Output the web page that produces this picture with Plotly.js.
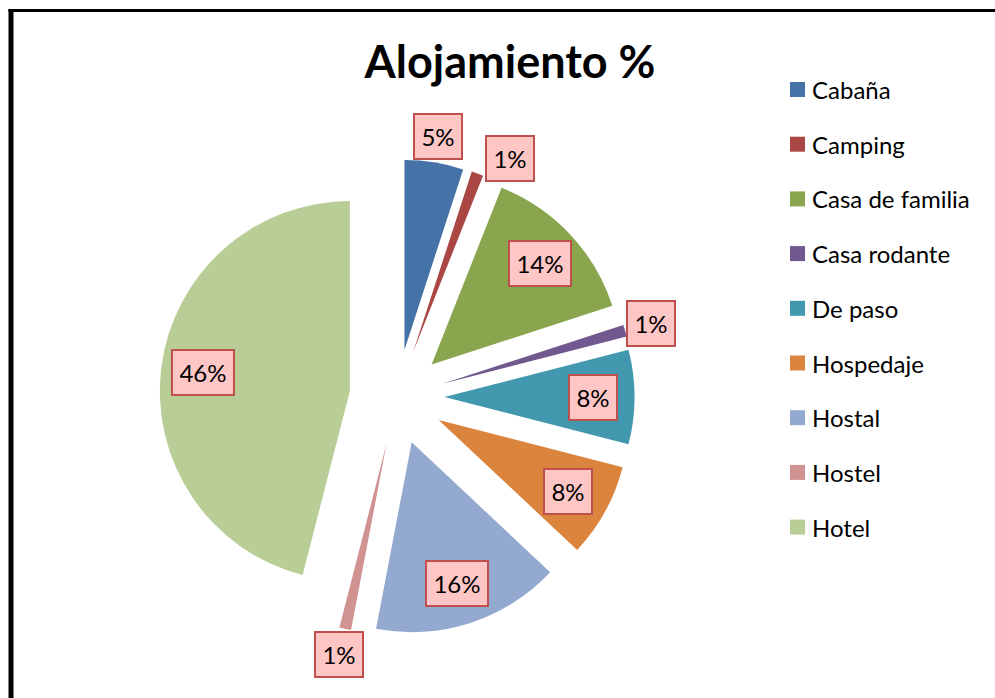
<!DOCTYPE html>
<html><head><meta charset="utf-8">
<script src="https://cdn.plot.ly/plotly-3.0.1.min.js"></script>
<style>html,body{margin:0;padding:0;background:#fff}#chart{width:995px;height:698px}</style>
</head><body><div id="chart"></div>
<script>
const categories = ['Cabaña','Camping','Casa de familia','Casa rodante','De paso','Hospedaje','Hostal','Hostel','Hotel'];
const percentValues = [5, 1, 14, 1, 8, 8, 16, 1, 46];
const percentLabels = ['5%','1%','14%','1%','8%','8%','16%','1%','46%'];
const sliceColors = ['#4572A7','#AA4643','#89A54E','#71588F','#4198AF','#DB843D','#93A9CF','#D19392','#B9CD96'];
const chartTitle = 'Alojamiento %';

const W = 995, H = 698;
const FONT = 'Lato, "Open Sans", sans-serif';
const PULL = 0.25;
const dom = {x: [159.5 / W, 634.5 / W], y: [1 - 634.5 / H, 1 - 159.5 / H]};
const R = Math.min((dom.x[1] - dom.x[0]) * W, (dom.y[1] - dom.y[0]) * H) / (2 + 2 * PULL);
const CX = (dom.x[0] + dom.x[1]) / 2 * W;
const CY = (1 - (dom.y[0] + dom.y[1]) / 2) * H;

const total = percentValues.reduce((a, b) => a + b, 0);
const annotations = [];
const shapes = [];

// data labels (boxed), positioned from each slice's mid angle
let cum = 0;
const placedOutside = [];
percentValues.forEach((v, i) => {
  let mid = (cum + v / 2) / total * 360;
  cum += v;
  const outside = v <= 5;
  const dist = outside ? (PULL + 1.14) * R : (PULL + 0.78) * R;
  const pos = a => [CX + dist * Math.sin(a * Math.PI / 180), CY - dist * Math.cos(a * Math.PI / 180)];
  let p = pos(mid);
  if (outside) {
    let guard = 0;
    while (placedOutside.some(q => Math.hypot(q[0] - p[0], q[1] - p[1]) < 74) && guard < 100) {
      mid += 0.5; p = pos(mid); guard++;
    }
    placedOutside.push(p);
  }
  annotations.push({
    x: p[0] / W, y: 1 - p[1] / H, xref: 'paper', yref: 'paper',
    text: percentLabels[i], showarrow: false, xanchor: 'center', yanchor: 'middle',
    font: {family: FONT, size: 24, color: '#000'},
    bgcolor: '#FFC6C6', bordercolor: '#C0504D', borderwidth: 2, borderpad: 7,
    width: 14 * percentLabels[i].length + 4
  });
});

// legend
categories.forEach((c, i) => {
  const yc = 89.5 + i * 54.7;
  shapes.push({type: 'rect', xref: 'paper', yref: 'paper',
    x0: 790 / W, x1: 805 / W, y0: 1 - (yc + 7.5) / H, y1: 1 - (yc - 7.5) / H,
    fillcolor: sliceColors[i], line: {width: 0}});
  annotations.push({x: 810 / W, y: 1 - yc / H, xref: 'paper', yref: 'paper',
    text: c, showarrow: false, xanchor: 'left', yanchor: 'middle',
    font: {family: FONT, size: 24, color: '#000'}});
});

// chart frame
shapes.push({type: 'line', xref: 'paper', yref: 'paper', x0: 11 / W, x1: 11 / W, y0: -0.05, y1: 1 - 9 / H, line: {color: '#000', width: 5}});
shapes.push({type: 'line', xref: 'paper', yref: 'paper', x0: 8.5 / W, x1: 1.05, y0: 1 - 10.5 / H, y1: 1 - 10.5 / H, line: {color: '#000', width: 3}});

const trace = {
  type: 'pie', labels: categories, values: percentValues,
  sort: false, direction: 'clockwise', rotation: 0,
  pull: PULL, textinfo: 'none', showlegend: false,
  marker: {colors: sliceColors, line: {width: 0}},
  domain: dom, hoverinfo: 'label+percent'
};

const layout = {
  width: W, height: H, margin: {l: 0, r: 0, t: 0, b: 0},
  paper_bgcolor: '#fff', showlegend: false,
  title: {text: '<b>' + chartTitle + '</b>', x: 510 / W, xanchor: 'center', y: 1 - 62 / H, yanchor: 'middle',
    font: {family: FONT, size: 45, color: '#000'}},
  annotations: annotations, shapes: shapes
};

Plotly.newPlot('chart', [trace], layout, {displayModeBar: false, staticPlot: true});
</script></body></html>
